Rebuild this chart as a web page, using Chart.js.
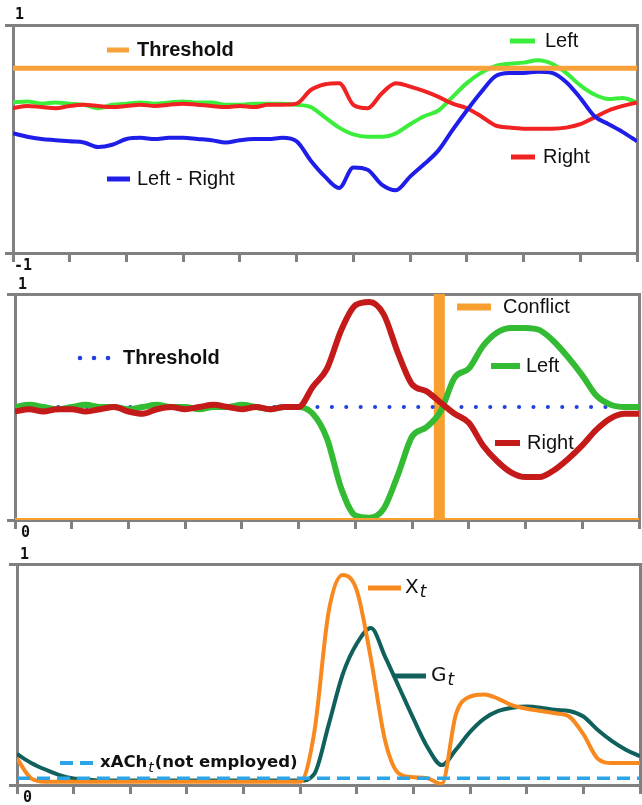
<!DOCTYPE html>
<html>
<head>
<meta charset="utf-8">
<script src="https://cdn.jsdelivr.net/npm/chart.js@4.4.1/dist/chart.umd.min.js"></script>
<style>
    html, body { margin: 0; padding: 0; background: #fff; }
    #wrap { position: relative; width: 642px; height: 805px; }
    .panel { position: absolute; left: 0; width: 642px; }
</style>
</head>
<body>
<div id="wrap">
    <div class="panel" style="top:0;height:270px"><canvas id="panelTop"></canvas></div>
    <div class="panel" style="top:270px;height:270px"><canvas id="panelMid"></canvas></div>
    <div class="panel" style="top:540px;height:265px"><canvas id="panelBot"></canvas></div>
</div>
<script>
// time axis (11 tick intervals)
const time = [0,0.25,0.5,0.75,1,1.25,1.5,1.75,2,2.25,2.5,2.75,3,3.25,3.5,3.75,4,4.25,4.5,4.75,
    5,5.25,5.5,5.75,6,6.25,6.5,6.75,7,7.25,7.5,7.75,8,8.25,8.5,8.75,9,9.25,9.5,9.75,10,10.25,10.5,10.75,11];

// top panel (-1 .. 1)
const topThreshold = 0.62;
const topLeft = [0.32,0.33,0.31,0.32,0.31,0.30,0.27,0.30,0.31,0.32,0.31,0.32,0.33,0.32,0.32,0.30,0.30,0.31,0.31,0.31,
    0.30,0.28,0.19,0.10,0.04,0.02,0.02,0.05,0.13,0.20,0.25,0.37,0.49,0.58,0.64,0.66,0.67,0.69,0.66,0.58,0.47,0.39,0.35,0.36,0.32];
const topRight = [0.27,0.29,0.28,0.27,0.29,0.30,0.29,0.28,0.29,0.30,0.29,0.30,0.31,0.30,0.29,0.28,0.29,0.28,0.30,0.30,
    0.31,0.43,0.48,0.49,0.30,0.27,0.40,0.49,0.46,0.42,0.37,0.31,0.27,0.20,0.12,0.10,0.09,0.09,0.09,0.10,0.13,0.19,0.25,0.29,0.32];
const topDiff = [0.05,0.02,0.00,-0.01,-0.02,-0.03,-0.07,-0.05,0.00,0.01,0.00,0.01,0.01,0.00,-0.01,-0.03,-0.01,0.00,0.00,0.01,
    -0.02,-0.19,-0.33,-0.43,-0.25,-0.27,-0.40,-0.45,-0.33,-0.22,-0.10,0.08,0.25,0.41,0.55,0.58,0.58,0.59,0.58,0.50,0.36,0.20,0.13,0.06,-0.02];

// middle panel (0 .. 1)
const midThreshold = 0.5;
const midConflictAt = 7.48;
const midLeft = [0.50,0.51,0.50,0.49,0.50,0.51,0.50,0.50,0.49,0.50,0.51,0.50,0.50,0.49,0.50,0.50,0.51,0.50,0.49,0.50,
    0.50,0.47,0.36,0.14,0.02,0.01,0.05,0.20,0.37,0.41,0.48,0.63,0.67,0.77,0.83,0.85,0.85,0.84,0.79,0.72,0.64,0.55,0.51,0.50,0.50];
const midRight = [0.48,0.49,0.48,0.49,0.49,0.48,0.49,0.50,0.48,0.47,0.49,0.50,0.49,0.50,0.51,0.50,0.49,0.50,0.49,0.50,
    0.50,0.59,0.67,0.84,0.95,0.965,0.91,0.74,0.60,0.57,0.52,0.47,0.43,0.33,0.26,0.21,0.19,0.19,0.22,0.27,0.33,0.40,0.45,0.47,0.47];

// bottom panel (0 .. 1)
const botXACh = 0.03;
const botX = [0.12,0.03,0.015,0.015,0.015,0.015,0.015,0.015,0.015,0.015,0.015,0.015,0.015,0.015,0.015,0.015,0.015,0.015,0.015,0.015,
    0.015,0.24,0.78,0.95,0.88,0.57,0.20,0.05,0.035,0.03,0.005,0.32,0.40,0.41,0.39,0.36,0.345,0.335,0.325,0.31,0.23,0.12,0.10,0.10,0.10];
const botG = [0.14,0.10,0.07,0.045,0.03,0.025,0.02,0.02,0.02,0.02,0.02,0.02,0.02,0.02,0.02,0.02,0.02,0.02,0.02,0.02,
    0.02,0.05,0.27,0.50,0.64,0.71,0.58,0.44,0.30,0.17,0.09,0.16,0.24,0.30,0.335,0.35,0.355,0.35,0.34,0.335,0.31,0.25,0.20,0.16,0.13];

const axisGray = '#808080';
const numFont = 'bold 15px "DejaVu Sans Mono"';
const reg20 = '20px "Liberation Sans"';
const bold20 = 'bold 20px "Liberation Sans"';

function pts(values) {
    return time.map((t, i) => ({ x: t, y: values[i] }));
}
function flat(v) {
    return [{ x: time[0], y: v }, { x: time[time.length - 1], y: v }];
}
function line(data, color, width, extra = {}) {
    return Object.assign({
        data: data, borderColor: color, borderWidth: width,
        pointRadius: 0, fill: false, cubicInterpolationMode: 'monotone'
    }, extra);
}

// text and key marks drawn inside each panel
const panelText = {
    id: 'panelText',
    afterDraw(chart, args, opts) {
        const ctx = chart.ctx;
        ctx.save();
        ctx.textBaseline = 'middle';
        ctx.textAlign = 'left';
        (opts.items || []).forEach(it => {
            const s = it.swatch;
            if (s) {
                ctx.strokeStyle = s.color;
                ctx.fillStyle = s.color;
                ctx.lineWidth = s.width;
                if (s.dots) {
                    s.dots.forEach(dx => {
                        ctx.beginPath();
                        ctx.arc(dx, it.y, 2.3, 0, Math.PI * 2);
                        ctx.fill();
                    });
                } else {
                    ctx.setLineDash(s.dash || []);
                    ctx.beginPath();
                    ctx.moveTo(s.x1, it.y);
                    ctx.lineTo(s.x2, it.y);
                    ctx.stroke();
                    ctx.setLineDash([]);
                }
            }
            ctx.fillStyle = it.color || '#111';
            ctx.font = it.font;
            ctx.fillText(it.text, it.x, it.y);
            if (it.sub) {
                let x = it.x + ctx.measureText(it.text).width + 1;
                ctx.font = it.subFont;
                ctx.fillText(it.sub, x, it.y + 5);
                x += ctx.measureText(it.sub).width + 1;
                if (it.after) {
                    ctx.font = it.font;
                    ctx.fillText(it.after, x, it.y);
                }
            }
        });
        ctx.restore();
    }
};

function makePanel(id, yMin, yMax, padding, datasets, items) {
    const hide = s => { s.height = 0; };
    const thin = s => { s.width = 0; };
    return new Chart(document.getElementById(id), {
        type: 'line',
        data: { datasets: datasets },
        plugins: [panelText],
        options: {
            responsive: true,
            maintainAspectRatio: false,
            animation: false,
            layout: { padding: padding },
            plugins: { legend: { display: false }, tooltip: { enabled: false }, panelText: { items: items } },
            scales: {
                x: {
                    type: 'linear', min: 0, max: 11, position: 'bottom',
                    ticks: { stepSize: 1, display: false },
                    grid: { drawOnChartArea: false, tickLength: 9, color: axisGray, lineWidth: 3 },
                    border: { color: axisGray, width: 3 },
                    afterFit: hide
                },
                x2: {
                    type: 'linear', min: 0, max: 11, position: 'top',
                    ticks: { display: false }, grid: { display: false },
                    border: { color: axisGray, width: 3 },
                    afterFit: hide
                },
                y: {
                    type: 'linear', min: yMin, max: yMax, position: 'left',
                    ticks: { display: false },
                    afterBuildTicks: s => { s.ticks = [{ value: yMin }, { value: yMax }]; },
                    grid: { drawOnChartArea: false, tickLength: 8, color: axisGray, lineWidth: 3 },
                    border: { color: axisGray, width: 3 },
                    afterFit: thin
                },
                y2: {
                    type: 'linear', min: yMin, max: yMax, position: 'right',
                    ticks: { display: false }, grid: { display: false },
                    border: { color: axisGray, width: 3 },
                    afterFit: thin
                }
            }
        }
    });
}

makePanel('panelTop', -1, 1, { top: 25, bottom: 17, left: 13, right: 5 }, [
    line(flat(topThreshold), '#F9A23C', 5, { cubicInterpolationMode: 'default' }),
    line(pts(topDiff), '#1E1EE8', 4),
    line(pts(topRight), '#F02222', 4),
    line(pts(topLeft), '#3CEE3C', 4)
], [
    { text: '1', x: 15, y: 15, font: numFont },
    { text: '-1', x: 14, y: 266, font: numFont },
    { text: 'Threshold', x: 137, y: 50, font: bold20, swatch: { x1: 107, x2: 129, color: '#F9A23C', width: 5 } },
    { text: 'Left', x: 545, y: 41, font: reg20, swatch: { x1: 510, x2: 535, color: '#3CEE3C', width: 5 } },
    { text: 'Right', x: 543, y: 157, font: reg20, swatch: { x1: 511, x2: 535, color: '#F02222', width: 5 } },
    { text: 'Left - Right', x: 137, y: 179, font: reg20, swatch: { x1: 107, x2: 130, color: '#1E1EE8', width: 5 } }
]);

makePanel('panelMid', 0, 1, { top: 24, bottom: 20, left: 15, right: 3 }, [
    line(flat(0), '#F7A030', 4),
    line(pts(midRight), '#C41A1A', 6),
    line(pts(midLeft), '#33BB33', 6),
    line(flat(midThreshold), '#2040E0', 4, { borderDash: [0.1, 14.3], borderCapStyle: 'round' }),
    line([{ x: midConflictAt, y: 0 }, { x: midConflictAt, y: 1 }], '#F7A030', 11, { cubicInterpolationMode: 'default', borderCapStyle: 'butt' })
], [
    { text: '1', x: 18, y: 15, font: numFont },
    { text: '0', x: 21, y: 263, font: numFont },
    { text: 'Conflict', x: 503, y: 37, font: reg20, swatch: { x1: 457, x2: 491, color: '#F7A030', width: 7 } },
    { text: 'Threshold', x: 123, y: 88, font: bold20, swatch: { dots: [80, 94, 108], color: '#2040E0' } },
    { text: 'Left', x: 526, y: 96, font: reg20, swatch: { x1: 491, x2: 520, color: '#33BB33', width: 6 } },
    { text: 'Right', x: 527, y: 173, font: reg20, swatch: { x1: 495, x2: 520, color: '#C41A1A', width: 6 } }
]);

makePanel('panelBot', 0, 1, { top: 24, bottom: 20, left: 17, right: 2 }, [
    line(flat(botXACh), '#2AA6E8', 3.5, { borderDash: [13, 7] }),
    line(pts(botX), '#F7891F', 4),
    line(pts(botG), '#10605C', 4)
], [
    { text: '1', x: 20, y: 15, font: numFont },
    { text: '0', x: 23, y: 258, font: numFont },
    { text: 'X', sub: 't', x: 405, y: 48, font: '20px "DejaVu Sans"', subFont: 'italic 17px "DejaVu Sans"',
      swatch: { x1: 368, x2: 401, color: '#F7891F', width: 5 } },
    { text: 'G', sub: 't', x: 431, y: 136, font: '20px "DejaVu Sans"', subFont: 'italic 17px "DejaVu Sans"',
      swatch: { x1: 393, x2: 426, color: '#10605C', width: 5 } },
    { text: 'xACh', sub: 't', after: '(not employed)', x: 100, y: 223, font: 'bold 16.5px "DejaVu Sans"',
      subFont: 'italic 14px "DejaVu Sans"', swatch: { x1: 60, x2: 94, color: '#2AA6E8', width: 4, dash: [13, 7] } }
]);
</script>
</body>
</html>
